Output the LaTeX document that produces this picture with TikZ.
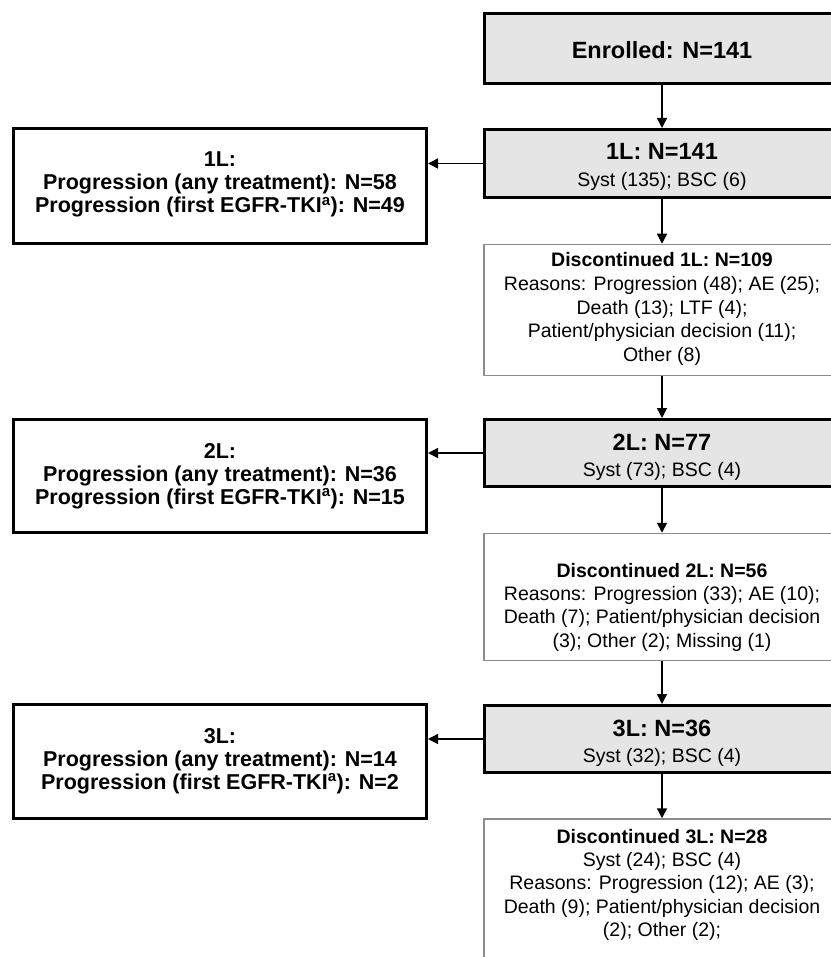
\documentclass[tikz,border=0pt]{standalone}
\usepackage{fontspec}
\setmainfont{Liberation Sans}
\usetikzlibrary{arrows.meta}
\definecolor{boxgray}{HTML}{E5E5E5}
\definecolor{thingray}{HTML}{8C8C8C}
\begin{document}
\begin{tikzpicture}[x=1pt,y=-1pt,
  graybox/.style={draw=black,line width=3pt,fill=boxgray,inner sep=0pt,minimum width=356pt},
  leftbox/.style={draw=black,line width=3pt,fill=white,inner sep=0pt,minimum width=413pt},
  discbox/.style={draw=thingray,line width=1.5pt,fill=white,inner sep=0pt,minimum width=356pt},
  arr/.style={line width=1.5pt,-{Triangle[length=10pt,width=10pt]}},
  txt/.style={inner sep=0pt,anchor=base},
  hd/.style={txt,font=\fontsize{23.5}{26}\selectfont\bfseries},
  sub/.style={txt,font=\fontsize{19.5}{22}\selectfont},
  subb/.style={txt,font=\fontsize{19.5}{22}\selectfont\bfseries},
  lft/.style={txt,font=\fontsize{21.5}{24}\selectfont\bfseries}]
\useasboundingbox (0,0) rectangle (830,957);
\fill[white] (0,0) rectangle (830,957);
% right column boxes
\node[graybox,minimum height=70pt] (enr) at (662,48.5) {};
\node[graybox,minimum height=68pt] (b1) at (662,163.5) {};
\node[discbox,minimum height=131pt] (d1) at (662,310) {};
\node[graybox,minimum height=67pt] (b2) at (662,453) {};
\node[discbox,minimum height=127pt] (d2) at (662,597) {};
\node[graybox,minimum height=67pt] (b3) at (662,739) {};
\node[discbox,minimum height=181pt] (d3) at (662,909.5) {};
% left boxes
\node[leftbox,minimum height=115pt] (l1) at (220,186) {};
\node[leftbox,minimum height=113pt] (l2) at (220,476) {};
\node[leftbox,minimum height=114pt] (l3) at (220,761.5) {};
% connectors
\draw[arr] (enr) -- (b1);
\draw[arr] (b1) -- (d1);
\draw[arr] (d1) -- (b2);
\draw[arr] (b2) -- (d2);
\draw[arr] (d2) -- (b3);
\draw[arr] (b3) -- (d3);
\draw[arr] (b1.west) -- (b1.west -| l1.east);
\draw[arr] (b2.west) -- (b2.west -| l2.east);
\draw[arr] (b3.west) -- (b3.west -| l3.east);
% texts right column
\node[hd] (t0) at (662,59) {Enrolled: N=141};
\node[hd] (t1a) at (662,160) {1L: N=141};
\node[sub] (t1b) at (662,186.5) {Syst (135); BSC (6)};
\node[subb] (d1a) at (662,267) {Discontinued 1L: N=109};
\node[sub] (d1b) at (662,290.5) {Reasons: Progression (48); AE (25);};
\node[sub] (d1c) at (662,314) {Death (13); LTF (4);};
\node[sub] (d1d) at (662,337.5) {Patient/physician decision (11);};
\node[sub] (d1e) at (662,361) {Other (8)};
\node[hd] (t2a) at (662,450) {2L: N=77};
\node[sub] (t2b) at (662,476.5) {Syst (73); BSC (4)};
\node[subb] (d2a) at (662,577) {Discontinued 2L: N=56};
\node[sub] (d2b) at (662,600) {Reasons: Progression (33); AE (10);};
\node[sub] (d2c) at (662,623.5) {Death (7); Patient/physician decision};
\node[sub] (d2d) at (662,647) {(3); Other (2); Missing (1)};
\node[hd] (t3a) at (662,736) {3L: N=36};
\node[sub] (t3b) at (662,762.5) {Syst (32); BSC (4)};
\node[subb] (d3a) at (662,843) {Discontinued 3L: N=28};
\node[sub] (d3b) at (662,866) {Syst (24); BSC (4)};
\node[sub] (d3c) at (662,889.5) {Reasons: Progression (12); AE (3);};
\node[sub] (d3d) at (662,913) {Death (9); Patient/physician decision};
\node[sub] (d3e) at (662,936.5) {(2); Other (2);};
% texts left column
\node[lft] (l1a) at (220,167) {1L:};
\node[lft] (l1b) at (220,190) {Progression (any treatment): N=58};
\node[lft] (l1c) at (220,213) {Progression (first EGFR-TKI\textsuperscript{a}): N=49};
\node[lft] (l2a) at (220,458) {2L:};
\node[lft] (l2b) at (220,481) {Progression (any treatment): N=36};
\node[lft] (l2c) at (220,504) {Progression (first EGFR-TKI\textsuperscript{a}): N=15};
\node[lft] (l3a) at (220,743) {3L:};
\node[lft] (l3b) at (220,766) {Progression (any treatment): N=14};
\node[lft] (l3c) at (220,789) {Progression (first EGFR-TKI\textsuperscript{a}): N=2};
\end{tikzpicture}
\end{document}
